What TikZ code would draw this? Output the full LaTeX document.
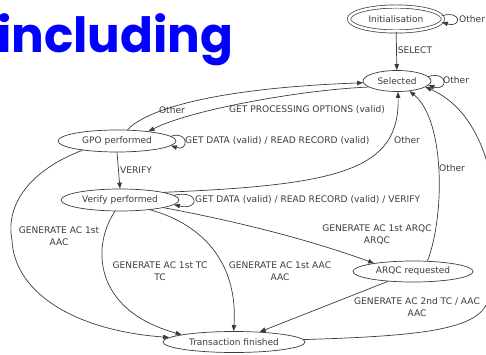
\documentclass[tikz,border=0pt]{standalone}
\usepackage{fontspec}
\setmainfont{DejaVu Sans}
\newfontfamily\titlefont{Poppins}
\usetikzlibrary{arrows.meta,shapes.geometric}
\definecolor{ink}{HTML}{3C3C3C}
\definecolor{titleblue}{RGB}{0,0,255}

\begin{document}
\begin{tikzpicture}[x=1pt,y=-1pt,
  state/.style={draw=ink, ellipse, line width=0.7pt, inner sep=0pt,
    font=\fontsize{9}{10}\selectfont, text=ink},
  edge/.style={draw=ink, line width=0.7pt, -{Triangle[length=6pt,width=4.5pt]}},
  lbl/.style={font=\fontsize{9.1}{12}\selectfont, text=ink, inner sep=0pt, align=center},
]
\useasboundingbox (0,0) rectangle (486,355);

% heading
\node[anchor=base west, inner sep=0pt, text=titleblue,
  font=\titlefont\bfseries\fontsize{48.5}{50}\selectfont] (title) at (-3,53) {including};

% states
\node[state, minimum width=94pt, minimum height=25pt, double, double distance=2.5pt] (init) at (396,19) {Initialisation};
\node[state, minimum width=68pt, minimum height=21pt] (sel) at (397,81) {Selected};
\node[state, minimum width=118pt, minimum height=22pt] (gpo) at (117,141) {GPO performed};
\node[state, minimum width=118pt, minimum height=22pt] (ver) at (120,200) {Verify performed};
\node[state, minimum width=120pt, minimum height=21pt] (arqc) at (413,271.5) {ARQC requested};
\node[state, minimum width=142pt, minimum height=21pt] (tf) at (234,342) {Transaction finished};

% transitions
\draw[edge] (init) -- (sel);
\draw[edge] (init.4) .. controls +(20,-6) and +(20,6) .. (init.-4);
\draw[edge] (sel.8) .. controls +(20,-6) and +(20,6) .. (sel.-8);
\draw[edge] (gpo.47) .. controls (148,108) and (220,88) .. (sel.183);
\draw[edge] (sel.192) .. controls (300,90) and (190,110) .. (gpo.17);
\draw[edge] (gpo.5) .. controls +(18,-6) and +(18,6) .. (gpo.-5);
\draw[edge] (gpo.south) -- (ver.north);
\draw[edge] (ver.5) .. controls +(26,-6) and +(26,6) .. (ver.-5);
\draw[edge] (ver.10) .. controls (340,185) and (400,170) .. (sel.-85);
\draw[edge] (arqc.36) .. controls (445,215) and (445,120) .. (sel.-39);
\draw[edge] (tf.2) .. controls (420,336) and (480,330) .. (488,300)
            .. controls (505,235) and (500,120) .. (sel.-12);
\draw[edge] (ver.-10) .. controls (240,222) and (310,240) .. (arqc.168);
\draw[edge] (gpo.195) .. controls (30,170) and (5,205) .. (12,240)
            .. controls (14,290) and (70,330) .. (tf.176);
\draw[edge] (ver.-114) .. controls (92,245) and (92,310) .. (tf.172);
\draw[edge] (ver.-18) .. controls (205,225) and (238,265) .. (tf.92);
\draw[edge] (arqc) -- (tf);

% transition labels
\node[lbl] (l-select) at (415,50) {SELECT};
\node[lbl, anchor=west] (l-oth1) at (459,19) {Other};
\node[lbl, anchor=west] (l-oth2) at (443,80) {Other};
\node[lbl] (l-oth3) at (172,110) {Other};
\node[lbl] (l-gpo) at (307,110) {GET PROCESSING OPTIONS (valid)};
\node[lbl, anchor=west] (l-gd1) at (185,141) {GET DATA (valid) / READ RECORD (valid)};
\node[lbl] (l-verify) at (136,170) {VERIFY};
\node[lbl, anchor=west] (l-gd2) at (195,200) {GET DATA (valid) / READ RECORD (valid) / VERIFY};
\node[lbl] (l-oth4) at (407,140) {Other};
\node[lbl] (l-oth5) at (452,168) {Other};
\node[lbl] (l-arqc) at (377,235) {GENERATE AC 1st ARQC\\ARQC};
\node[lbl] (l-aac1) at (59,236) {GENERATE AC 1st\\AAC};
\node[lbl] (l-tc) at (160,271) {GENERATE AC 1st TC\\TC};
\node[lbl] (l-aac2) at (280,271) {GENERATE AC 1st AAC\\AAC};
\node[lbl] (l-2nd) at (417,307) {GENERATE AC 2nd TC / AAC\\AAC};
\end{tikzpicture}
\end{document}
